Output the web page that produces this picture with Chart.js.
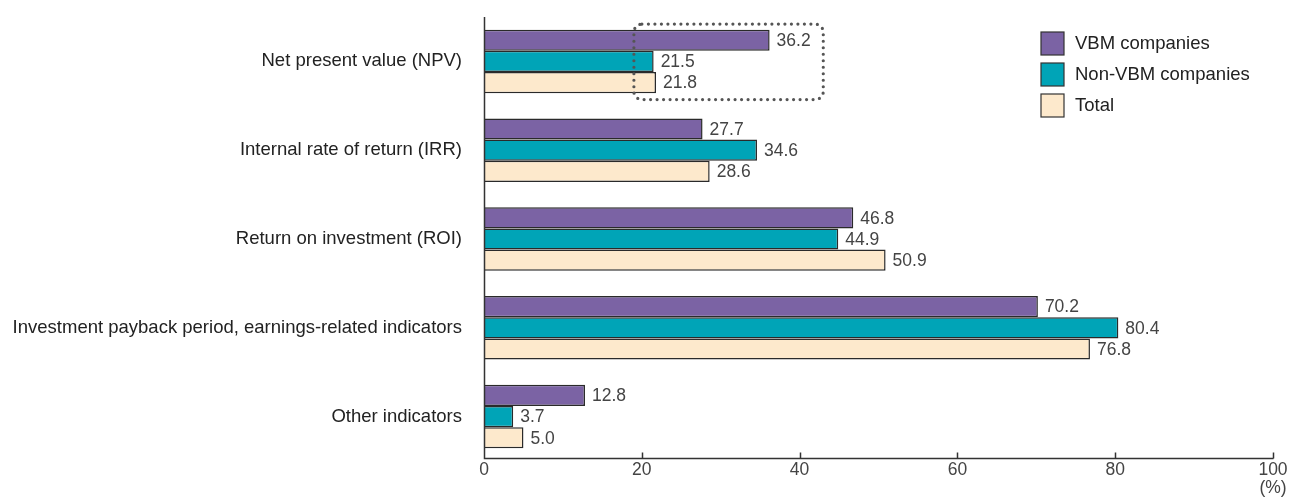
<!DOCTYPE html>
<html>
<head>
<meta charset="utf-8">
<script src="https://cdn.jsdelivr.net/npm/chart.js@4.4.1/dist/chart.umd.min.js"></script>
<style>
    html, body { margin: 0; padding: 0; background: #fff; }
    #wrap { width: 1300px; height: 498px; }
</style>
</head>
<body>
<div id="wrap"><canvas id="chart" width="1300" height="498"></canvas></div>
<script>
// evaluation indicators used for investment decisions (%)
const categories = [
    'Net present value (NPV)',
    'Internal rate of return (IRR)',
    'Return on investment (ROI)',
    'Investment payback period, earnings-related indicators',
    'Other indicators'
];
const seriesNames = ['VBM companies', 'Non-VBM companies', 'Total'];
const vbmValues = [36.2, 27.7, 46.8, 70.2, 12.8];
const nonVbmValues = [21.5, 34.6, 44.9, 80.4, 3.7];
const totalValues = [21.8, 28.6, 50.9, 76.8, 5.0];
const xTicks = [0, 20, 40, 60, 80, 100];
// range highlighted around the NPV row
const npvBoxRange = [19, 43];

const FONT = "'Liberation Sans', Arial, Helvetica, sans-serif";
const AXIS = '#333';
// axis line sits a little above the bottom of the last band
const AXIS_RISE = 3;

// value text at the end of each bar
const valueLabels = {
    id: 'valueLabels',
    afterDatasetsDraw(chart) {
        const ctx = chart.ctx;
        ctx.save();
        ctx.font = '17.5px ' + FONT;
        ctx.fillStyle = '#444';
        ctx.textBaseline = 'middle';
        ctx.textAlign = 'left';
        chart.data.datasets.forEach((ds, i) => {
            chart.getDatasetMeta(i).data.forEach((bar, j) => {
                ctx.fillText(ds.data[j].toFixed(1), bar.x + 7, bar.y + 1);
            });
        });
        ctx.restore();
    }
};

// axis lines, inward tick marks, (%) unit and the dotted box
const extras = {
    id: 'extras',
    afterDraw(chart) {
        const ctx = chart.ctx;
        const x = chart.scales.x, y = chart.scales.y;
        const area = chart.chartArea;
        const base = Math.round(area.bottom - AXIS_RISE) + 0.5;
        const x0 = Math.round(x.getPixelForValue(0)) + 0.5;
        ctx.save();
        ctx.strokeStyle = AXIS;
        ctx.lineWidth = 1.5;
        ctx.beginPath();
        ctx.moveTo(x0, area.top);
        ctx.lineTo(x0, base);
        ctx.lineTo(x.getPixelForValue(100) + 0.5, base);
        ctx.stroke();
        xTicks.slice(1).forEach(v => {
            const px = Math.round(x.getPixelForValue(v)) + 0.5;
            ctx.beginPath();
            ctx.moveTo(px, base);
            ctx.lineTo(px, base - 6);
            ctx.stroke();
        });

        ctx.font = '17.5px ' + FONT;
        ctx.fillStyle = '#444';
        ctx.textAlign = 'center';
        ctx.textBaseline = 'middle';
        ctx.fillText('(%)', x.getPixelForValue(100), base + 30);

        // rounded dotted frame around the NPV bars
        const band = (y.getPixelForValue(1) - y.getPixelForValue(0));
        const cy = y.getPixelForValue(0);
        const left = x.getPixelForValue(npvBoxRange[0]);
        const right = x.getPixelForValue(npvBoxRange[1]);
        const top = cy - band * 0.42;
        const bottom = cy + band * 0.43;
        ctx.strokeStyle = '#555';
        ctx.lineWidth = 3.2;
        ctx.lineCap = 'round';
        ctx.setLineDash([0, 6.5]);
        ctx.beginPath();
        ctx.roundRect(left, top, right - left, bottom - top, 8);
        ctx.stroke();
        ctx.restore();
    }
};

// legend box in the upper right
const sideLegend = {
    id: 'sideLegend',
    afterDraw(chart) {
        const ctx = chart.ctx;
        ctx.save();
        ctx.font = '18.5px ' + FONT;
        ctx.textBaseline = 'middle';
        ctx.textAlign = 'left';
        chart.data.datasets.forEach((ds, i) => {
            const top = 32 + i * 31;
            ctx.fillStyle = ds.backgroundColor;
            ctx.fillRect(1041, top, 23, 23);
            ctx.strokeStyle = '#333';
            ctx.lineWidth = 1.2;
            ctx.strokeRect(1041, top, 23, 23);
            ctx.fillStyle = '#222';
            ctx.fillText(ds.label, 1075, top + 12);
        });
        ctx.restore();
    }
};

const chart = new Chart(document.getElementById('chart'), {
    type: 'bar',
    data: {
        labels: categories,
        datasets: [{
            label: seriesNames[0],
            data: vbmValues,
            backgroundColor: '#7b63a4',
            borderColor: '#2a2a2a',
            borderWidth: 1.5
        }, {
            label: seriesNames[1],
            data: nonVbmValues,
            backgroundColor: '#00a4b7',
            borderColor: '#2a2a2a',
            borderWidth: 1.5
        }, {
            label: seriesNames[2],
            data: totalValues,
            backgroundColor: '#fde9cc',
            borderColor: '#2a2a2a',
            borderWidth: 1.5
        }]
    },
    options: {
        indexAxis: 'y',
        responsive: false,
        animation: false,
        layout: { padding: { top: 17, right: 27, left: 0, bottom: 0 } },
        datasets: {
            bar: { categoryPercentage: 0.715, barPercentage: 1 }
        },
        scales: {
            x: {
                min: 0,
                max: 100,
                afterBuildTicks(scale) {
                    scale.ticks = xTicks.map(v => ({ value: v }));
                },
                afterFit(scale) { scale.height = 37; },
                grid: { display: false, drawTicks: false },
                border: { display: false },
                ticks: {
                    padding: -1,
                    color: '#444',
                    font: { family: FONT, size: 17.5 },
                    maxRotation: 0
                }
            },
            y: {
                afterFit(scale) {
                    scale.width = 484;
                    scale.paddingTop = 0;
                    scale.paddingBottom = 0;
                },
                grid: { display: false, drawTicks: false },
                border: { display: false },
                ticks: {
                    padding: 22,
                    color: '#222',
                    font: { family: FONT, size: 18.5 }
                }
            }
        },
        plugins: {
            legend: { display: false },
            tooltip: { enabled: false }
        }
    },
    plugins: [valueLabels, extras, sideLegend]
});
</script>
</body>
</html>
